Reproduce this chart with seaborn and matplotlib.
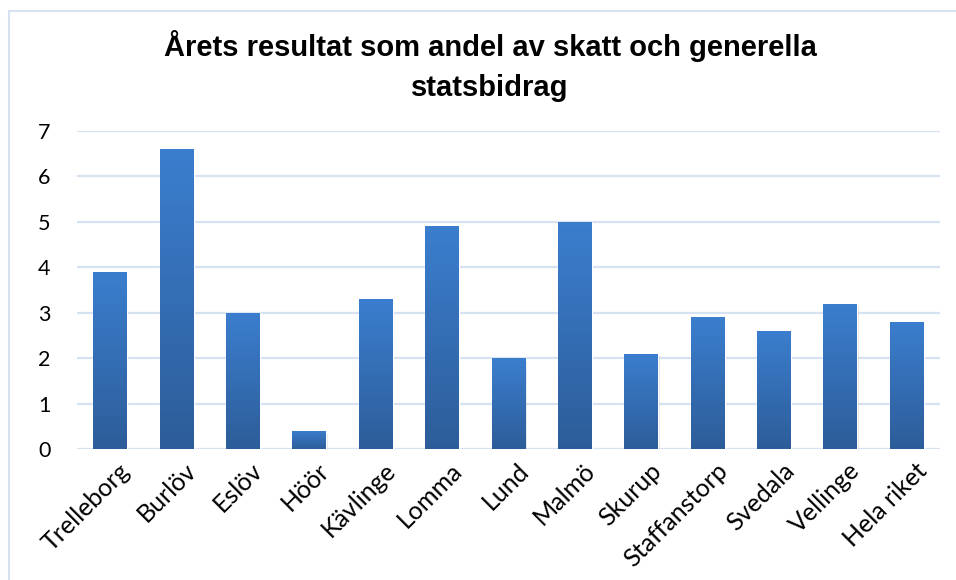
import matplotlib
matplotlib.use("Agg")
import matplotlib.pyplot as plt
import matplotlib.transforms as mtransforms
from matplotlib.patches import Rectangle
import numpy as np
import pandas as pd
import seaborn as sns

categories = ["Trelleborg", "Burlöv", "Eslöv", "Höör", "Kävlinge", "Lomma", "Lund",
              "Malmö", "Skurup", "Staffanstorp", "Svedala", "Vellinge", "Hela riket"]
values = [3.9, 6.6, 3.0, 0.4, 3.3, 4.9, 2.0, 5.0, 2.1, 2.9, 2.6, 3.2, 2.8]
title = "Årets resultat som andel av skatt och generella\nstatsbidrag"
yticks = [0, 1, 2, 3, 4, 5, 6, 7]

sns.set_theme(style="white")
plt.rcParams["font.family"] = ["Lato", "DejaVu Sans"]

df = pd.DataFrame({"kommun": categories, "värde": values})

fig = plt.figure(figsize=(9.56, 5.80), dpi=100)
W, H = 956, 580
ax = fig.add_axes([77 / W, 1 - 449 / H, (940 - 77) / W, (449 - 131) / H])

sns.barplot(data=df, x="kommun", y="värde", color="#3A78C6", width=0.51,
            ax=ax, zorder=3, saturation=1)

ax.set_ylim(0, 7)
ax.set_xlim(-0.5, len(categories) - 0.5)
ax.set_yticks(yticks)
ax.yaxis.grid(True, color="#D6E1F1", linewidth=1.6, zorder=0)
ax.xaxis.grid(False)
for s in ax.spines.values():
    s.set_visible(False)
ax.set_xlabel("")
ax.set_ylabel("")
ax.tick_params(axis="y", length=0, pad=19, labelsize=15.5, labelcolor="#000000")
ax.tick_params(axis="x", length=0, pad=7, labelsize=18, labelcolor="#000000")

# gradient fill clipped to each bar
grad = np.linspace(0, 1, 256).reshape(-1, 1)
cmap = matplotlib.colors.LinearSegmentedColormap.from_list(
    "g", ["#2D5D99", "#3B7ECE"])
for p in list(ax.patches):
    x0, y0 = p.get_x(), p.get_y()
    w, h = p.get_width(), p.get_height()
    sh = Rectangle((x0 + 0.02, y0 - 0.06), w, h, facecolor="#000000", alpha=0.10,
                   edgecolor="none", zorder=2)
    ax.add_patch(sh)
    im = ax.imshow(grad, extent=[x0, x0 + w, y0, y0 + h], origin="lower",
                   cmap=cmap, aspect="auto", zorder=4)
    im.set_clip_path(p)
ax.set_xlim(-0.5, len(categories) - 0.5)
ax.set_ylim(0, 7)

offset = mtransforms.ScaledTranslation(8 / 100, 0, fig.dpi_scale_trans)
for lab in ax.get_xticklabels():
    lab.set_rotation(45)
    lab.set_ha("right")
    lab.set_va("top")
    lab.set_rotation_mode("anchor")
    lab.set_transform(lab.get_transform() + offset)

fig.text(490 / W, 1 - 66 / H, title, ha="center", va="center", fontsize=21,
         fontweight="bold", family=["Liberation Sans", "DejaVu Sans"],
         color="#000000", linespacing=1.5)

# chart frame
fig.patches.append(Rectangle((9 / W, -0.05), 1.2, 1 - 11 / H + 0.05,
                             transform=fig.transFigure, fill=False,
                             edgecolor="#D6E1F1", linewidth=1.5))

fig.savefig("out.png", dpi=100)
